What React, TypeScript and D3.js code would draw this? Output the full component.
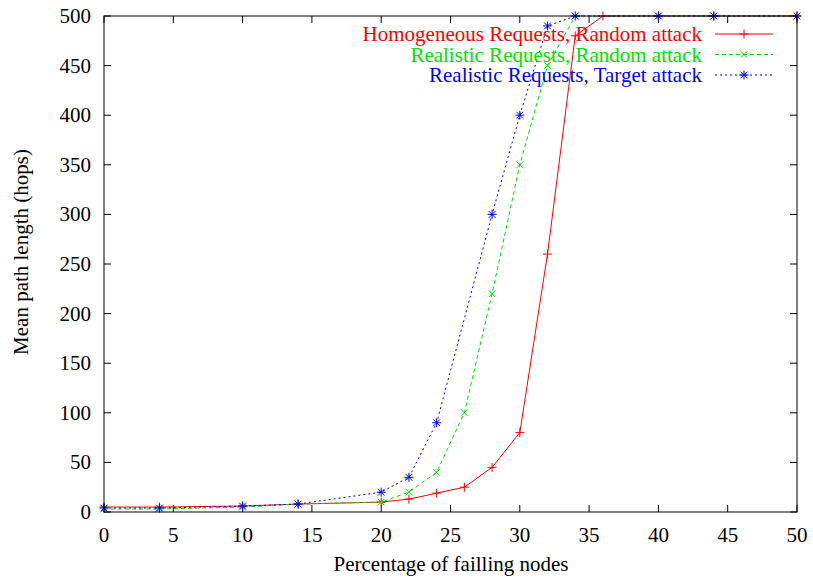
import React from "react";
import * as d3 from "d3";

const xTicks = [0, 5, 10, 15, 20, 25, 30, 35, 40, 45, 50];
const yTicks = [0, 50, 100, 150, 200, 250, 300, 350, 400, 450, 500];

const homX = [0, 4, 10, 14, 20, 22, 24, 26, 28, 30, 32, 34, 36, 40, 44, 50];
const homY = [5, 5, 6, 8, 10, 13, 19, 25, 45, 80, 260, 480, 500, 500, 500, 500];

const realRandX = [0, 4, 10, 14, 20, 22, 24, 26, 28, 30, 32, 34, 40, 44, 50];
const realRandY = [3, 3, 5, 8, 10, 20, 40, 100, 220, 350, 450, 500, 500, 500, 500];

const realTargX = [0, 4, 10, 14, 20, 22, 24, 28, 30, 32, 34, 40, 44, 50];
const realTargY = [4, 4, 6, 8, 20, 35, 90, 300, 400, 490, 500, 500, 500, 500];

const seriesNames = [
  "Homogeneous Requests, Random attack",
  "Realistic Requests, Random attack",
  "Realistic Requests, Target attack",
];

const W = 813, H = 579;
const L = 104, R = 797, T = 16, B = 512;
const TS = { fontFamily: "'Liberation Serif'" };
const FS = 21;

function Marker({ kind, x, y, color }: { kind: string; x: number; y: number; color: string }) {
  const s = 4.5;
  const plus = `M${x - s},${y}H${x + s}M${x},${y - s}V${y + s}`;
  const cross = `M${x - s * 0.75},${y - s * 0.75}L${x + s * 0.75},${y + s * 0.75}M${x - s * 0.75},${y + s * 0.75}L${x + s * 0.75},${y - s * 0.75}`;
  const d = kind === "plus" ? plus : kind === "cross" ? cross : plus + cross;
  return <path d={d} stroke={color} strokeWidth={1} fill="none" />;
}

export default function App() {
  const x = d3.scaleLinear().domain([0, 50]).range([L, R]);
  const y = d3.scaleLinear().domain([0, 500]).range([B, T]);
  const line = d3.line<[number, number]>().x((d) => x(d[0])).y((d) => y(d[1]));

  const series = [
    { name: seriesNames[0], xs: homX, ys: homY, color: "#ff0000", dash: "none", marker: "plus" },
    { name: seriesNames[1], xs: realRandX, ys: realRandY, color: "#00e000", dash: "4,3", marker: "cross" },
    { name: seriesNames[2], xs: realTargX, ys: realTargY, color: "#0000ff", dash: "2,3", marker: "star" },
  ];

  const tickLen = 7;

  return (
    <svg width={W} height={H} style={{ position: "absolute", left: 0, top: 0, background: "#fff" }}>
      <rect x={0} y={0} width={W} height={H} fill="#fff" />
      {xTicks.map((t) => (
        <g key={"xt" + t}>
          <line x1={x(t)} x2={x(t)} y1={B} y2={B - tickLen} stroke="#000" />
          <line x1={x(t)} x2={x(t)} y1={T} y2={T + tickLen} stroke="#000" />
          <text x={x(t)} y={B + 30} textAnchor="middle" fontSize={FS} style={TS}>{t}</text>
        </g>
      ))}
      {yTicks.map((t) => (
        <g key={"yt" + t}>
          <line x1={L} x2={L + tickLen} y1={y(t)} y2={y(t)} stroke="#000" />
          <line x1={R} x2={R - tickLen} y1={y(t)} y2={y(t)} stroke="#000" />
          <text x={91} y={y(t) + 7} textAnchor="end" fontSize={FS} style={TS}>{t}</text>
        </g>
      ))}
      {series.map((s) => {
        const pts: [number, number][] = s.xs.map((v, i) => [v, s.ys[i]]);
        return (
          <g key={s.name}>
            <path d={line(pts) || ""} stroke={s.color} strokeWidth={1} fill="none" strokeDasharray={s.dash} />
            {pts.map((p, i) => (
              <Marker key={i} kind={s.marker} x={x(p[0])} y={y(p[1])} color={s.color} />
            ))}
          </g>
        );
      })}
      {series.map((s, i) => {
        const ly = 34 + i * 20.5;
        return (
          <g key={"lg" + i}>
            <text x={702} y={ly + 7} textAnchor="end" fontSize={FS} fill={s.color} style={TS}>{s.name}</text>
            <line x1={715} x2={773} y1={ly} y2={ly} stroke={s.color} strokeDasharray={s.dash} />
            <Marker kind={s.marker} x={744} y={ly} color={s.color} />
          </g>
        );
      })}
      <rect x={L} y={T} width={R - L} height={B - T} fill="none" stroke="#000" strokeWidth={1} />
      <text x={451} y={571} textAnchor="middle" fontSize={FS} style={TS}>Percentage of failling nodes</text>
      <text transform={`translate(28,252) rotate(-90)`} textAnchor="middle" fontSize={FS} style={TS}>Mean path length (hops)</text>
    </svg>
  );
}
